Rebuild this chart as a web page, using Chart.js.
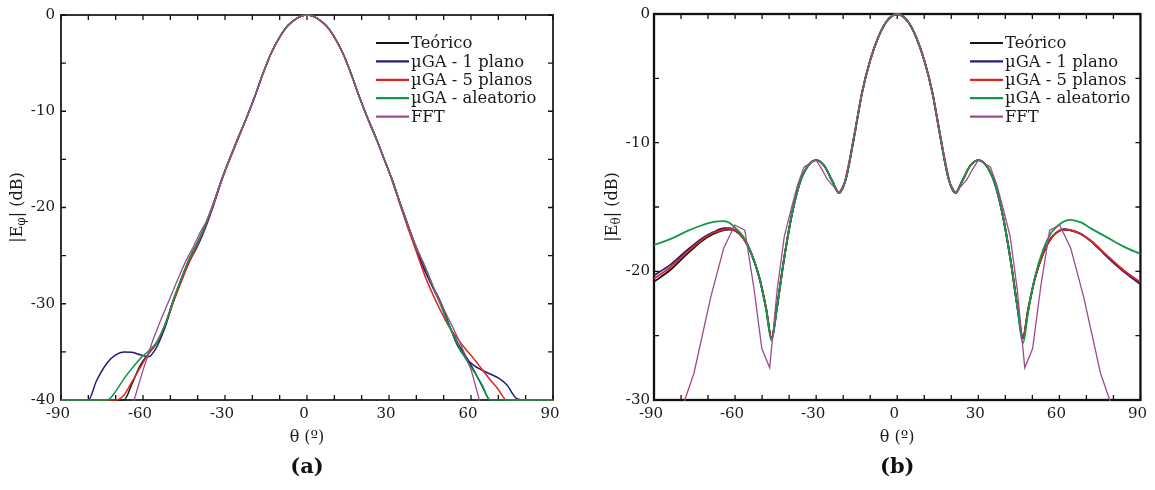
<!DOCTYPE html>
<html>
<head>
<meta charset="utf-8">
<script src="https://cdn.jsdelivr.net/npm/chart.js@4.4.0/dist/chart.umd.min.js"></script>
<style>
  body { margin: 0; background: #fff; width: 1155px; height: 490px; overflow: hidden; }
  canvas { position: absolute; top: 0; }
  #chartA { left: 0; }
  #chartB { left: 575px; }
</style>
</head>
<body>
<canvas id="chartA" width="575" height="490"></canvas>
<canvas id="chartB" width="580" height="490"></canvas>
<script>
// Series names (legend order)
const seriesNames = ["Teórico", "µGA - 1 plano", "µGA - 5 planos", "µGA - aleatorio", "FFT"];

// Tick labels shown on the axes
const xTickLabels = [-90, -60, -30, 0, 30, 60, 90];
const yTickLabelsA = [0, -10, -20, -30, -40];
const yTickLabelsB = [0, -10, -20, -30];

// ---- (a) |E_phi| ----
const thetaA = [-90, -80, -77, -73, -70, -67, -64, -61, -58, -55, -52, -49, -46, -43, -40, -37, -34, -31, -28, -25, -22, -19, -16, -13, -10, -7, -4, -2,
  0,
  2, 4, 7, 10, 13, 16, 19, 22, 25, 28, 31, 34, 37, 40, 43, 46, 49, 52, 55, 58, 61, 64, 67, 70, 73, 77, 80, 90];

const teoricoA = [-40, -40, -40, -40, -40, -40, -38.3, -36.4, -35.2, -34.1, -32.3, -29.7, -27.4, -25.3, -23.6, -21.7, -19.4, -16.9, -14.7, -12.6, -10.6, -8.4, -6.0, -3.9, -2.3, -1.1, -0.4, -0.1,
  0,
  -0.1, -0.4, -1.1, -2.3, -3.9, -6.0, -8.4, -10.6, -12.6, -14.8, -17.0, -19.5, -21.9, -24.4, -26.5, -28.2, -29.9, -32.2, -34.0, -35.4, -36.9, -38.5, -40, -40, -40, -40, -40, -40];

const plano1A = [-40, -40, -38.0, -36.1, -35.3, -35.0, -35.05, -35.3, -35.5, -34.5, -32.5, -29.9, -27.6, -25.6, -24.0, -22.0, -19.6, -17.0, -14.8, -12.7, -10.6, -8.4, -6.0, -3.9, -2.3, -1.1, -0.4, -0.1,
  0,
  -0.1, -0.4, -1.1, -2.3, -3.9, -6.0, -8.4, -10.6, -12.6, -14.8, -17.0, -19.5, -21.9, -24.2, -26.4, -28.3, -30.1, -32.2, -34.3, -35.6, -36.4, -36.9, -37.3, -37.7, -38.4, -39.9, -40, -40];

const planos5A = [-40, -40, -40, -40, -40, -39.5, -38.1, -36.6, -35.2, -34.0, -32.2, -29.9, -27.7, -25.6, -23.8, -21.8, -19.5, -17.0, -14.8, -12.7, -10.6, -8.4, -6.0, -3.9, -2.3, -1.1, -0.4, -0.1,
  0,
  -0.1, -0.4, -1.1, -2.3, -3.9, -6.0, -8.4, -10.6, -12.6, -14.8, -17.1, -19.7, -22.2, -24.6, -27.0, -29.0, -30.8, -32.4, -33.6, -34.7, -35.7, -36.8, -37.9, -38.9, -40, -40, -40, -40];

const aleatorioA = [-40, -40, -40, -40, -39.1, -37.8, -36.7, -35.7, -34.9, -34.0, -32.2, -29.7, -27.4, -25.3, -23.6, -21.7, -19.4, -16.9, -14.7, -12.6, -10.6, -8.4, -6.0, -3.9, -2.3, -1.1, -0.4, -0.1,
  0,
  -0.1, -0.4, -1.1, -2.3, -3.9, -6.0, -8.4, -10.6, -12.6, -14.8, -17.0, -19.5, -21.9, -24.2, -26.0, -28.1, -30.2, -32.3, -34.1, -35.7, -37.0, -38.4, -40, -40, -40, -40, -40, -40];

// FFT sample angles (same for both cuts)
const thetaFft = [-90, -75.2, -69.0, -64.2, -60.1, -56.4, -53.1, -50.1, -47.2, -44.4, -41.8, -39.3, -36.9, -34.5, -32.2, -30.0, -27.8, -25.7, -23.6, -21.5, -19.5, -17.5, -15.5, -13.5, -11.5, -9.6, -7.7, -5.7, -3.8, -1.9,
  0,
  1.9, 3.8, 5.7, 7.7, 9.6, 11.5, 13.5, 15.5, 17.5, 19.5, 21.5, 23.6, 25.7, 27.8, 30.0, 32.2, 34.5, 36.9, 39.3, 41.8, 44.4, 47.2, 50.1, 53.1, 56.4, 60.1, 64.2, 69.0, 75.2, 90];

const fftA = [-60, -52, -46.5, -40.9, -37.0, -33.8, -31.4, -29.4, -27.4, -25.6, -24.2, -22.7, -21.5, -19.8, -17.9, -16.2, -14.6, -13.1, -11.7, -10.2, -8.8, -7.2, -5.7, -4.2, -3.0, -2.1, -1.35, -0.75, -0.35, -0.1,
  0,
  -0.1, -0.35, -0.75, -1.35, -2.1, -3.0, -4.2, -5.7, -7.2, -8.8, -10.2, -11.8, -13.2, -14.7, -16.3, -18.1, -19.9, -21.8, -23.6, -25.3, -27.1, -28.9, -30.6, -32.3, -34.3, -36.9, -41.2, -47, -53, -60];

// ---- (b) |E_theta| ----
const thetaB = [-90, -84, -78, -72, -68, -64, -62, -60, -57, -54, -51, -48.5, -46.5, -44.5, -42, -39, -36, -33, -30, -27, -24, -21.5, -19, -16, -13, -10, -7, -4,
  0,
  4, 7, 10, 13, 16, 19, 21.5, 24, 27, 30, 33, 36, 39, 42, 44.5, 46.5, 48.5, 51, 54, 57, 60, 62, 64, 68, 72, 78, 84, 90];

const teoricoB = [-20.8, -19.9, -18.7, -17.6, -17.1, -16.8, -16.75, -16.85, -17.4, -18.6, -20.5, -22.9, -25.2, -22.8, -19.2, -15.6, -13.1, -11.8, -11.35, -11.8, -13.0, -13.9, -12.8, -9.6, -6.1, -3.6, -1.8, -0.6,
  0,
  -0.6, -1.8, -3.6, -6.1, -9.6, -12.8, -13.9, -13.0, -11.8, -11.35, -11.8, -13.1, -15.6, -19.2, -22.8, -25.1, -22.9, -20.5, -18.6, -17.4, -16.85, -16.75, -16.8, -17.1, -17.7, -18.9, -20.0, -20.95];

const plano1B = [-20.3, -19.5, -18.4, -17.4, -16.95, -16.65, -16.65, -16.8, -17.4, -18.6, -20.5, -22.9, -25.2, -22.8, -19.2, -15.6, -13.1, -11.8, -11.35, -11.8, -13.0, -13.9, -12.8, -9.6, -6.1, -3.6, -1.8, -0.6,
  0,
  -0.6, -1.8, -3.6, -6.1, -9.6, -12.8, -13.9, -13.0, -11.8, -11.35, -11.8, -13.1, -15.6, -19.2, -22.8, -25.2, -22.9, -20.5, -18.6, -17.4, -16.85, -16.75, -16.8, -17.1, -17.7, -18.95, -20.05, -21.0];

const planos5B = [-20.55, -19.7, -18.55, -17.5, -17.0, -16.75, -16.7, -16.8, -17.4, -18.6, -20.5, -22.9, -25.2, -22.8, -19.2, -15.6, -13.1, -11.8, -11.35, -11.8, -13.0, -13.9, -12.8, -9.6, -6.1, -3.6, -1.8, -0.6,
  0,
  -0.6, -1.8, -3.6, -6.1, -9.6, -12.8, -13.9, -13.0, -11.8, -11.35, -11.8, -13.1, -15.6, -19.2, -22.8, -25.1, -22.9, -20.5, -18.6, -17.4, -16.85, -16.75, -16.8, -17.1, -17.7, -18.85, -19.95, -20.85];

const aleatorioB = [-17.95, -17.5, -16.9, -16.4, -16.15, -16.1, -16.25, -16.6, -17.3, -18.6, -20.5, -23.0, -25.4, -22.9, -19.2, -15.6, -13.1, -11.8, -11.35, -11.8, -13.0, -13.9, -12.8, -9.6, -6.1, -3.6, -1.8, -0.6,
  0,
  -0.6, -1.8, -3.6, -6.1, -9.6, -12.8, -13.9, -13.0, -11.8, -11.35, -11.8, -13.1, -15.6, -19.2, -22.9, -25.6, -23.1, -20.4, -18.3, -17.0, -16.35, -16.1, -16.0, -16.2, -16.7, -17.4, -18.1, -18.65];

const fftB = [-37, -27.9, -22.0, -18.2, -16.4, -16.8, -21.2, -26.0, -27.5, -21.4, -17.3, -15.2, -13.3, -11.9, -11.6, -11.35, -12.1, -12.9, -13.4, -13.9, -13.1, -11.1, -8.8, -6.6, -4.8, -3.3, -2.1, -1.2, -0.5, -0.15,
  0,
  -0.15, -0.5, -1.2, -2.1, -3.3, -4.8, -6.6, -8.8, -11.1, -13.1, -13.9, -13.4, -12.9, -12.1, -11.35, -11.6, -11.9, -13.3, -15.2, -17.3, -21.4, -27.5, -26.0, -21.2, -16.8, -16.4, -18.2, -22.0, -27.9, -37];

const FONT = "'DejaVu Serif', serif";
const TEXT = "#1a1a1a";
const colors = ["#161616", "#211d7c", "#e0241c", "#10994a", "#9b4a8c"];
const drawOrder = [5, 4, 3, 2, 1];

// Frame, inward ticks, y title with subscript, legend and panel label
const panelDeco = {
  id: "panelDeco",
  beforeDatasetsDraw(chart, args, o) {
    const { ctx, chartArea: a, scales: { x, y } } = chart;
    ctx.save();
    ctx.strokeStyle = "#111";
    ctx.lineWidth = o.axisWidth;
    ctx.strokeRect(a.left, a.top, a.right - a.left, a.bottom - a.top);
    ctx.lineWidth = 1.3;
    ctx.beginPath();
    x.ticks.forEach(t => {
      const px = x.getPixelForValue(t.value);
      ctx.moveTo(px, a.bottom); ctx.lineTo(px, a.bottom - 5);
      ctx.moveTo(px, a.top); ctx.lineTo(px, a.top + 5);
    });
    y.ticks.forEach(t => {
      const py = y.getPixelForValue(t.value);
      ctx.moveTo(a.left, py); ctx.lineTo(a.left + 5, py);
      ctx.moveTo(a.right, py); ctx.lineTo(a.right - 5, py);
    });
    ctx.stroke();
    ctx.restore();
  },
  afterDraw(chart, args, o) {
    const { ctx, chartArea: a } = chart;
    ctx.save();
    ctx.fillStyle = TEXT;
    ctx.textBaseline = "middle";

    // y axis title |E_x| (dB)
    ctx.translate(o.yTitleX, (a.top + a.bottom) / 2);
    ctx.rotate(-Math.PI / 2);
    const main = "16px " + FONT, sub = "12px " + FONT;
    ctx.font = main;
    const w1 = ctx.measureText("|E").width, w3 = ctx.measureText("| (dB)").width;
    ctx.font = sub;
    const w2 = ctx.measureText(o.sub).width;
    let tx = -(w1 + w2 + w3) / 2;
    ctx.textAlign = "left";
    ctx.font = main; ctx.fillText("|E", tx, 0); tx += w1;
    ctx.font = sub; ctx.fillText(o.sub, tx, 4); tx += w2;
    ctx.font = main; ctx.fillText("| (dB)", tx, 0);
    ctx.setTransform(1, 0, 0, 1, 0, 0);

    // legend
    ctx.font = "16.4px " + FONT;
    chart.data.datasets.forEach((ds, i) => {
      const ly = o.legendY + i * 18.4;
      ctx.strokeStyle = ds.borderColor;
      ctx.lineWidth = 2.2;
      ctx.beginPath();
      ctx.moveTo(o.legendX, ly);
      ctx.lineTo(o.legendX + 33, ly);
      ctx.stroke();
      ctx.fillText(ds.label, o.legendX + 35, ly + 1);
    });

    // panel label
    ctx.font = "bold 21px " + FONT;
    ctx.textAlign = "center";
    ctx.fillStyle = "#111";
    ctx.fillText(o.panel, (a.left + a.right) / 2, 468);
    ctx.restore();
  }
};

function makeChart(id, cfg) {
  const datasets = cfg.series.map((vals, i) => ({
    label: seriesNames[i],
    data: (i === 4 ? thetaFft : cfg.theta).map((t, k) => ({ x: t, y: vals[k] })),
    borderColor: colors[i],
    borderWidth: i === 4 ? 1.3 : cfg.lineWidth,
    pointRadius: 0,
    cubicInterpolationMode: i === 4 ? "default" : "monotone",
    tension: i === 4 ? 0 : 0.4,
    clip: { left: 0, top: 1, right: 0, bottom: 1 },
    order: drawOrder[i]
  }));

  return new Chart(document.getElementById(id), {
    type: "line",
    data: { datasets },
    plugins: [panelDeco],
    options: {
      responsive: false,
      animation: false,
      layout: { padding: { left: 0, top: 14, right: cfg.padRight, bottom: 0 } },
      plugins: {
        legend: { display: false },
        tooltip: { enabled: false },
        panelDeco: cfg.deco
      },
      scales: {
        x: {
          type: "linear", min: -90, max: 90,
          grid: { display: false, drawTicks: false }, border: { display: false },
          ticks: {
            stepSize: 10, autoSkip: false, maxRotation: 0, padding: 5, labelOffset: -3,
            color: TEXT, font: { family: FONT, size: 15 },
            callback: v => xTickLabels.includes(v) ? v : ""
          },
          title: {
            display: true, text: "θ (º)", color: TEXT,
            font: { family: FONT, size: 16 }, padding: { top: 0, bottom: 43 }
          },
          afterFit: s => { s.height = 90; }
        },
        y: {
          type: "linear", min: cfg.yMin, max: 0,
          grid: { display: false, drawTicks: false }, border: { display: false },
          ticks: {
            stepSize: 5, autoSkip: false, padding: cfg.yPad,
            color: TEXT, font: { family: FONT, size: 15 },
            callback: v => cfg.yLabels.includes(v) ? v : ""
          },
          afterFit: s => { s.width = cfg.yWidth; }
        }
      }
    }
  });
}

makeChart("chartA", {
  theta: thetaA,
  series: [teoricoA, plano1A, planos5A, aleatorioA, fftA],
  yMin: -40, yLabels: yTickLabelsA, yWidth: 61, yPad: 6, padRight: 22, lineWidth: 1.5,
  deco: { axisWidth: 1.7, sub: "φ", yTitleX: 18, legendX: 376, legendY: 43, panel: "(a)" }
});

makeChart("chartB", {
  theta: thetaB,
  series: [teoricoB, plano1B, planos5B, aleatorioB, fftB],
  yMin: -30, yLabels: yTickLabelsB, yWidth: 79, yPad: 4, padRight: 10, lineWidth: 1.8,
  deco: { axisWidth: 2.3, sub: "θ", yTitleX: 38, legendX: 395, legendY: 43, panel: "(b)" }
});
</script>
</body>
</html>
